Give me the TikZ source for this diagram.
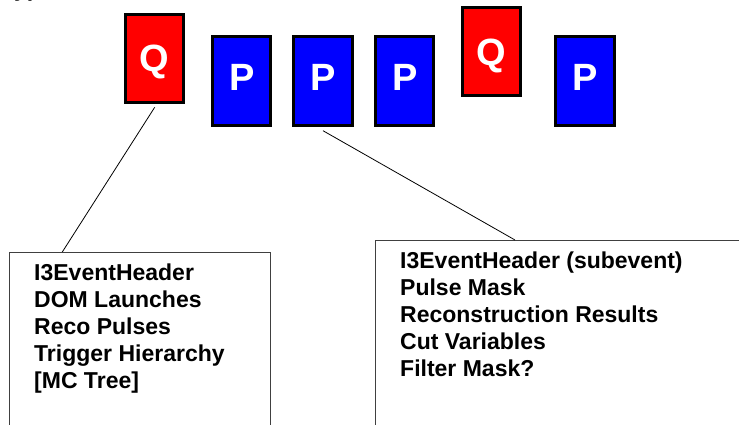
\documentclass[tikz,border=0pt]{standalone}
\usepackage{fontspec}
\setmainfont{Liberation Sans}
\usetikzlibrary{calc}
\begin{document}
\begin{tikzpicture}[x=1pt,y=-1pt,
  card/.style={draw=black, line width=3pt, minimum width=58.4pt, minimum height=88.4pt,
    inner sep=0pt, outer sep=0pt, anchor=north west},
  qcard/.style={card, fill=red},
  pcard/.style={card, fill=blue},
  letter/.style={text=white, font=\fontsize{38}{38}\selectfont\bfseries, inner sep=0pt, anchor=base},
  infobox/.style={draw=black!75, line width=1pt, inner sep=0pt, outer sep=0pt, anchor=north west,
    minimum height=220pt},
  infotext/.style={font=\fontsize{23}{27}\selectfont\bfseries, align=left, inner sep=0pt, anchor=base west},
  link/.style={draw=black, line width=0.8pt}
]
\useasboundingbox (0,0) rectangle (739,425);
\clip (0,0) rectangle (739,425);

% clipped title fragment at the very top
\node[font=\fontsize{23}{23}\selectfont\bfseries, inner sep=0pt, anchor=base west] (title) at (14,-3.8) {yp};

% cards
\node[qcard] (q1) at (125.5,14.2) {};
\node[pcard] (p1) at (212.5,36.8) {};
\node[pcard] (p2) at (293.8,36.8) {};
\node[pcard] (p3) at (375.5,36.8) {};
\node[qcard] (q2) at (462.5,7.5) {};
\node[pcard] (p4) at (555.8,36.8) {};

\node[letter] (q1l) at ($(q1.north)+(0,57)$) {Q};
\node[letter] (p1l) at ($(p1.north)+(0,54)$) {P};
\node[letter] (p2l) at ($(p2.north)+(0,54)$) {P};
\node[letter] (p3l) at ($(p3.north)+(0,54)$) {P};
\node[letter] (q2l) at ($(q2.north)+(0,57.8)$) {Q};
\node[letter] (p4l) at ($(p4.north)+(0,54)$) {P};

% info boxes
\node[infobox, minimum width=261.4pt] (box1) at (9.3,252) {};
\node[infobox, minimum width=400pt] (box2) at (375.7,240) {};

% (base anchor of a multi-line node lies on its last line: 4 lines x 27pt below the first)
\node[infotext] (t1) at ($(box1.north west)+(24.7,28.3+108)$)
  {I3EventHeader\\DOM Launches\\Reco Pulses\\Trigger Hierarchy\\{[MC Tree]}};
\node[infotext] (t2) at ($(box2.north west)+(24.3,28.3+108)$)
  {I3EventHeader (subevent)\\Pulse Mask\\Reconstruction Results\\Cut Variables\\Filter Mask?};

% connectors
\draw[link] ($(q1.south)+(0,4.7)$) -- ([xshift=53pt]box1.north west);
\draw[link] ($(p2.south)+(0,5.5)$) -- ([xshift=139.3pt]box2.north west);
\end{tikzpicture}
\end{document}
